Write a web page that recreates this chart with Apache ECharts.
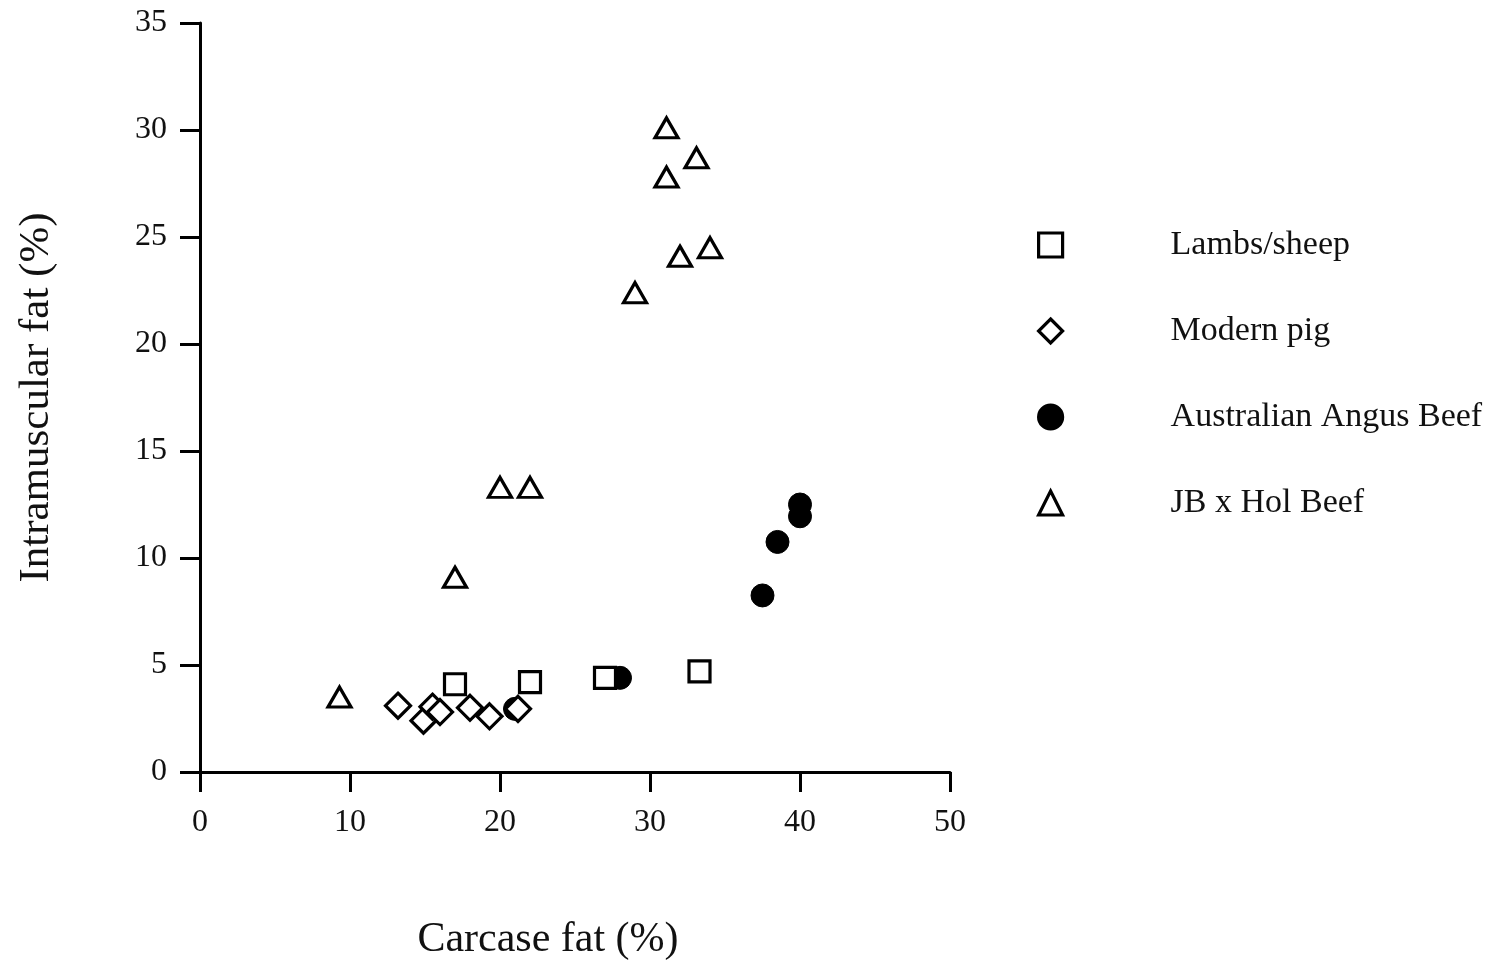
<!DOCTYPE html>
<html>
<head>
<meta charset="utf-8">
<script src="https://cdn.jsdelivr.net/npm/echarts@6/dist/echarts.min.js"></script>
<style>html,body{margin:0;padding:0;background:#fff;}#c{width:1493px;height:962px;}</style>
</head>
<body>
<div id="c"></div>
<script>
var seriesNames = ['Lambs/sheep', 'Modern pig', 'Australian Angus Beef', 'JB x Hol Beef'];
var lambsSheep = [[17.0, 4.1], [22.0, 4.2], [27.0, 4.4], [33.3, 4.7]];
var modernPig = [[13.2, 3.1], [14.9, 2.4], [15.5, 3.05], [16.0, 2.8], [18.0, 3.0], [19.3, 2.6], [21.2, 2.95]];
var angusBeef = [[21.0, 2.95], [28.0, 4.4], [37.5, 8.25], [38.5, 10.75], [40.0, 11.95], [40.0, 12.5]];
var jbHolBeef = [[9.3, 3.5], [17.0, 9.1], [20.0, 13.3], [22.0, 13.3], [29.0, 22.4], [31.1, 27.8], [31.1, 30.1], [32.0, 24.1], [33.1, 28.7], [34.0, 24.5]];
var xTicks = [0, 10, 20, 30, 40, 50];
var yTicks = [0, 5, 10, 15, 20, 25, 30, 35];

var FONT = '"Liberation Serif", "DejaVu Serif", serif';
var chart = echarts.init(document.getElementById('c'), null, {renderer: 'canvas'});
var openStyle = {color: '#fff', borderColor: '#000', borderWidth: 3.2, opacity: 1};
chart.setOption({
  animation: false,
  backgroundColor: '#fff',
  grid: {left: 200, right: 543, top: 23, bottom: 190, containLabel: false, outerBoundsMode: 'none'},
  xAxis: {
    type: 'value', min: xTicks[0], max: xTicks[xTicks.length - 1], interval: 10,
    splitLine: {show: false},
    axisLine: {lineStyle: {color: '#000', width: 3}},
    axisTick: {inside: false, length: 20, lineStyle: {color: '#000', width: 3}},
    axisLabel: {margin: 35, fontSize: 32, fontFamily: FONT, color: '#111'},
    name: 'Carcase fat (%)', nameLocation: 'middle', nameGap: 147, nameMoveOverlap: false,
    nameTextStyle: {fontSize: 42, fontFamily: FONT, color: '#111', padding: [0, 54, 0, 0]}
  },
  yAxis: {
    type: 'value', min: yTicks[0], max: yTicks[yTicks.length - 1], interval: 5,
    splitLine: {show: false},
    axisLine: {lineStyle: {color: '#000', width: 3}},
    axisTick: {inside: false, length: 20, lineStyle: {color: '#000', width: 3}},
    axisLabel: {margin: 33, fontSize: 32, fontFamily: FONT, color: '#111'},
    name: 'Intramuscular fat (%)', nameLocation: 'middle', nameGap: 142, nameMoveOverlap: false,
    nameTextStyle: {fontSize: 43, fontFamily: FONT, color: '#111'}
  },
  legend: {
    orient: 'vertical', left: 1032, top: 223,
    itemWidth: 24, itemHeight: 24, itemGap: 52,
    data: seriesNames,
    itemStyle: {borderWidth: 3.2},
    textStyle: {fontSize: 34, fontFamily: FONT, color: '#111', padding: [0, 0, 0, 103]}
  },
  series: [
    {name: seriesNames[2], type: 'scatter', data: angusBeef, symbol: 'circle', symbolSize: 23,
     itemStyle: {color: '#000', borderColor: '#000', borderWidth: 1, opacity: 1}},
    {name: seriesNames[0], type: 'scatter', data: lambsSheep, symbol: 'rect', symbolSize: 21,
     itemStyle: openStyle},
    {name: seriesNames[1], type: 'scatter', data: modernPig, symbol: 'diamond', symbolSize: 25,
     itemStyle: openStyle},
    {name: seriesNames[3], type: 'scatter', data: jbHolBeef, symbol: 'triangle', symbolSize: [23, 20],
     itemStyle: openStyle}
  ]
});
</script>
</body>
</html>
